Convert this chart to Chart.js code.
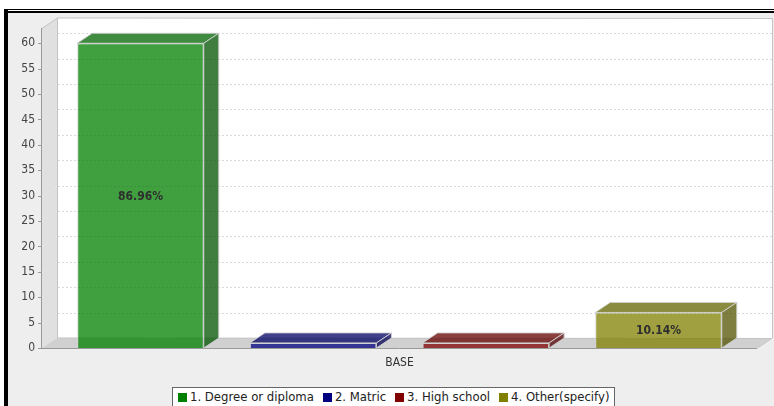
<!DOCTYPE html>
<html>
<head>
<meta charset="utf-8">
<script src="https://cdn.jsdelivr.net/npm/chart.js@4.4.1/dist/chart.umd.min.js"></script>
<style>
  body { margin: 0; background: #fff; }
  #wrap { position: relative; width: 774px; height: 406px; overflow: hidden; }
  #frameTop1 { position: absolute; left: 4px; top: 9px; width: 770px; height: 1px; background: #000; }
  #frameTop2 { position: absolute; left: 4px; top: 11px; width: 770px; height: 2px; background: #000; }
  #frameLeft { position: absolute; left: 4px; top: 9px; width: 4px; height: 397px; background: #000; }
  #canvasBox { position: absolute; left: 8px; top: 13px; width: 766px; height: 393px; background: #eeeeee; }
  #legend { position: absolute; left: 172px; top: 387px; height: 24px; padding: 0 5px 0 5px;
            border: 1px solid #666; background: #fff; white-space: nowrap;
            font: 13px "DejaVu Sans Condensed", "DejaVu Sans", sans-serif; color: #222; line-height: 18px; }
  #legend span.item { margin-right: 9px; }
  #legend span.item:last-child { margin-right: 0; }
  #legend i { display: inline-block; width: 9px; height: 9px; margin-right: 3px; vertical-align: -1px; }
</style>
</head>
<body>
<div id="wrap">
  <div id="frameTop1"></div>
  <div id="frameTop2"></div>
  <div id="frameLeft"></div>
  <div id="canvasBox"><canvas id="barChart" width="766" height="393"></canvas></div>
  <div id="legend"></div>
</div>
<script>
// data
const categories = ['BASE'];
const seriesNames = ['1. Degree or diploma', '2. Matric', '3. High school', '4. Other(specify)'];
const seriesValues = [60, 1, 1, 7];
const seriesColors = ['#008000', '#000080', '#800000', '#808000'];
const yTicks = [0, 5, 10, 15, 20, 25, 30, 35, 40, 45, 50, 55, 60];

const DX = 15, DY = 10; // 3d depth
const FONT = '"DejaVu Sans Condensed", "DejaVu Sans", sans-serif';

function rgba(hex, a, k) {
    k = k || 1;
    const r = Math.round(parseInt(hex.substr(1, 2), 16) * k);
    const g = Math.round(parseInt(hex.substr(3, 2), 16) * k);
    const b = Math.round(parseInt(hex.substr(5, 2), 16) * k);
    return 'rgba(' + r + ',' + g + ',' + b + ',' + a + ')';
}

const total = seriesValues.reduce((a, b) => a + b, 0);

// back wall, floor and grid
const wallPlugin = {
    id: 'wall',
    beforeDatasetsDraw(chart) {
        const ctx = chart.ctx;
        const a = chart.chartArea;
        const y = chart.scales.y;
        ctx.save();
        ctx.fillStyle = '#ffffff';
        ctx.fillRect(a.left + DX, a.top - DY, a.right - a.left, a.bottom - a.top);
        // left wall
        ctx.fillStyle = '#e0e0e0';
        ctx.beginPath();
        ctx.moveTo(a.left, a.top);
        ctx.lineTo(a.left + DX, a.top - DY);
        ctx.lineTo(a.left + DX, a.bottom - DY);
        ctx.lineTo(a.left, a.bottom);
        ctx.closePath();
        ctx.fill();
        // floor
        ctx.fillStyle = '#d0d0d0';
        ctx.beginPath();
        ctx.moveTo(a.left, a.bottom);
        ctx.lineTo(a.left + DX, a.bottom - DY);
        ctx.lineTo(a.right + DX, a.bottom - DY);
        ctx.lineTo(a.right, a.bottom);
        ctx.closePath();
        ctx.fill();
        // outline of wall
        ctx.strokeStyle = '#c4c4c4';
        ctx.lineWidth = 1;
        ctx.beginPath();
        ctx.moveTo(a.left, a.top + 0.5);
        ctx.lineTo(a.left + DX + 0.5, a.top - DY);
        ctx.lineTo(a.right + DX + 0.5, a.top - DY + 0.5);
        ctx.lineTo(a.right + DX + 0.5, a.bottom - DY);
        ctx.lineTo(a.right + 0.5, a.bottom);
        ctx.moveTo(a.left + DX + 0.5, a.top - DY);
        ctx.lineTo(a.left + DX + 0.5, a.bottom - DY);
        ctx.lineTo(a.right + DX, a.bottom - DY + 0.5);
        ctx.stroke();
        // dashed grid on the back wall
        ctx.setLineDash([2, 2]);
        yTicks.forEach(v => {
            if (v === 0) return;
            const py = Math.round(y.getPixelForValue(v)) + 0.5;
            ctx.strokeStyle = '#d8d8d8';
            ctx.beginPath();
            ctx.moveTo(a.left + DX + 1, py - DY);
            ctx.lineTo(a.right + DX, py - DY);
            ctx.stroke();
            ctx.strokeStyle = '#e8e8e8';
            ctx.beginPath();
            ctx.moveTo(a.left, py);
            ctx.lineTo(a.left + DX, py - DY);
            ctx.stroke();
        });
        ctx.setLineDash([]);
        // axis line
        ctx.strokeStyle = '#9a9a9a';
        ctx.beginPath();
        ctx.moveTo(a.left - 0.5, a.top);
        ctx.lineTo(a.left - 0.5, a.bottom + 0.5);
        ctx.lineTo(a.right, a.bottom + 0.5);
        ctx.stroke();
        ctx.restore();
    },
    afterDatasetsDraw(chart) {
        const ctx = chart.ctx;
        ctx.save();
        chart.data.datasets.forEach((ds, i) => {
            const bar = chart.getDatasetMeta(i).data[0];
            const left = bar.x - bar.width / 2, right = bar.x + bar.width / 2;
            const top = bar.y, bottom = bar.base;
            ctx.strokeStyle = 'rgba(210,210,210,0.9)';
            ctx.lineWidth = 1;
            // top face
            ctx.fillStyle = rgba(seriesColors[i], 0.75, 0.78);
            ctx.beginPath();
            ctx.moveTo(left, top);
            ctx.lineTo(left + DX, top - DY);
            ctx.lineTo(right + DX, top - DY);
            ctx.lineTo(right, top);
            ctx.closePath();
            ctx.fill();
            ctx.stroke();
            // side face
            ctx.fillStyle = rgba(seriesColors[i], 0.75, 0.65);
            ctx.beginPath();
            ctx.moveTo(right, top);
            ctx.lineTo(right + DX, top - DY);
            ctx.lineTo(right + DX, bottom - DY);
            ctx.lineTo(right, bottom);
            ctx.closePath();
            ctx.fill();
            ctx.stroke();
            // value label
            const h = bottom - top;
            if (h > 14) {
                const pct = (ds.data[0] / total * 100).toFixed(2) + '%';
                ctx.fillStyle = '#2e2e2e';
                ctx.font = 'bold 12px ' + FONT;
                ctx.textAlign = 'center';
                ctx.textBaseline = 'middle';
                ctx.fillText(pct, bar.x, (top + bottom) / 2 + 1);
            }
        });
        ctx.restore();
    }
};

const ctx = document.getElementById('barChart').getContext('2d');
const chart = new Chart(ctx, {
    type: 'bar',
    data: {
        labels: categories,
        datasets: seriesNames.map((name, i) => ({
            label: name,
            data: [seriesValues[i]],
            backgroundColor: rgba(seriesColors[i], 0.75),
            borderColor: 'rgba(210,210,210,0.9)',
            borderWidth: 1,
            categoryPercentage: 0.966,
            barPercentage: 0.733
        }))
    },
    options: {
        responsive: false,
        animation: false,
        layout: { padding: { left: 0, right: 17, top: 15, bottom: 0 } },
        plugins: {
            legend: { display: false },
            tooltip: { enabled: false }
        },
        scales: {
            x: {
                grid: { display: false, drawTicks: false },
                border: { display: false },
                ticks: { color: '#333', padding: 8, font: { family: FONT, size: 12 } },
                afterFit(scale) { scale.height = 393 - 335; }
            },
            y: {
                min: 0,
                max: 63,
                grid: { display: false, drawTicks: true, tickLength: 4 },
                border: { display: false },
                ticks: { stepSize: 5, color: '#444', padding: 3, font: { family: FONT, size: 12 } },
                afterBuildTicks(scale) {
                    scale.ticks = yTicks.map(v => ({ value: v }));
                },
                afterFit(scale) { scale.width = 34; }
            }
        }
    },
    plugins: [wallPlugin, {
        id: 'yTickMarks',
        afterDraw(c) {
            const y = c.scales.y, a = c.chartArea, g = c.ctx;
            g.save();
            g.strokeStyle = '#9a9a9a';
            yTicks.forEach(v => {
                const py = Math.round(y.getPixelForValue(v)) + 0.5;
                g.beginPath();
                g.moveTo(a.left - 4, py);
                g.lineTo(a.left, py);
                g.stroke();
            });
            g.restore();
        }
    }]
});

// html legend built from the series
const legend = document.getElementById('legend');
seriesNames.forEach((name, i) => {
    const s = document.createElement('span');
    s.className = 'item';
    s.innerHTML = '<i style="background:' + seriesColors[i] + '"></i>' + name;
    legend.appendChild(s);
});
</script>
</body>
</html>
